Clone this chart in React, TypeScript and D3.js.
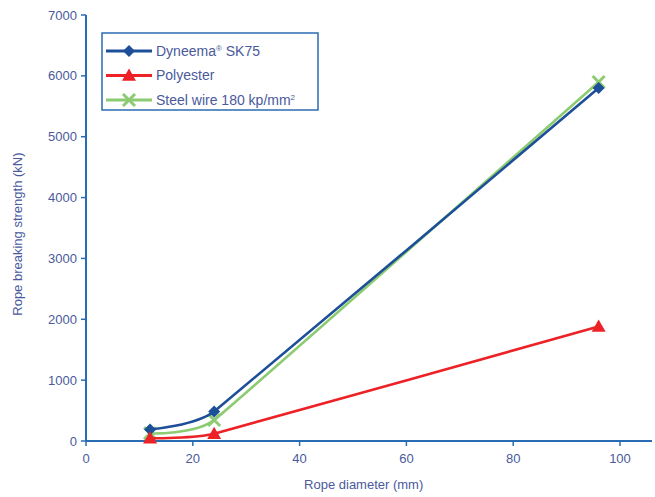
import React from "react";
import * as d3 from "d3";

const diameters = [12, 24, 96];
const dyneema = [190, 485, 5800];
const polyester = [45, 120, 1880];
const steel = [125, 345, 5900];
const xTicks = [0, 20, 40, 60, 80, 100];
const yTicks = [0, 1000, 2000, 3000, 4000, 5000, 6000, 7000];

const W = 655, H = 497;
const x0 = 86, y0 = 441;
const x = d3.scaleLinear().domain([0, 100]).range([x0, 620]);
const y = d3.scaleLinear().domain([0, 7000]).range([y0, 15]);

const AXIS = "#2a6cb4";
const TXT = "#4a5a9c";
const C_DY = "#1d4f98";
const C_PO = "#ec2227";
const C_ST = "#8ccb72";
const FONT = "'Liberation Sans', Arial, sans-serif";

const line = d3
  .line<[number, number]>()
  .x((d) => x(d[0]))
  .y((d) => y(d[1]))
  .curve(d3.curveCardinal.tension(0.75));

function Diamond({ cx, cy, c }: { cx: number; cy: number; c: string }) {
  const s = 6;
  return <path d={`M${cx},${cy - s}L${cx + s},${cy}L${cx},${cy + s}L${cx - s},${cy}Z`} fill={c} />;
}
function Tri({ cx, cy, c }: { cx: number; cy: number; c: string }) {
  const s = 7;
  return <path d={`M${cx},${cy - s}L${cx + s},${cy + s * 0.75}L${cx - s},${cy + s * 0.75}Z`} fill={c} />;
}
function Cross({ cx, cy, c }: { cx: number; cy: number; c: string }) {
  const s = 6;
  return (
    <path
      d={`M${cx - s},${cy - s}L${cx + s},${cy + s}M${cx - s},${cy + s}L${cx + s},${cy - s}`}
      stroke={c}
      strokeWidth={3}
      fill="none"
    />
  );
}

export default function App() {
  const series = [
    { vals: steel, c: C_ST, M: Cross },
    { vals: dyneema, c: C_DY, M: Diamond },
    { vals: polyester, c: C_PO, M: Tri },
  ];
  const legend = [
    { c: C_DY, M: Diamond, label: "dy" },
    { c: C_PO, M: Tri, label: "Polyester" },
    { c: C_ST, M: Cross, label: "st" },
  ];
  return (
    <svg width={W} height={H} style={{ position: "absolute", left: 0, top: 0, background: "#fff" }} fontFamily={FONT}>
      <rect width={W} height={H} fill="#fff" />
      <line x1={x0} x2={x0} y1={y(7000)} y2={y0} stroke={AXIS} strokeWidth={2} />
      <line x1={x0} x2={652} y1={y0} y2={y0} stroke={AXIS} strokeWidth={2} />
      {yTicks.map((t) => (
        <g key={t}>
          <line x1={x0 - 5} x2={x0} y1={y(t)} y2={y(t)} stroke={AXIS} strokeWidth={1.5} />
          <text x={x0 - 9} y={y(t)} dy="0.35em" textAnchor="end" fontSize={13} fill={TXT}>
            {t}
          </text>
        </g>
      ))}
      {xTicks.map((t) => (
        <g key={t}>
          <line x1={x(t)} x2={x(t)} y1={y0} y2={y0 + 5} stroke={AXIS} strokeWidth={1.5} />
          <text x={x(t)} y={y0 + 22} textAnchor="middle" fontSize={13} fill={TXT}>
            {t}
          </text>
        </g>
      ))}
      <text x={x(52)} y={489} textAnchor="middle" fontSize={13} fill={TXT}>
        Rope diameter (mm)
      </text>
      <text transform={`translate(22,${y(3400)}) rotate(-90)`} textAnchor="middle" fontSize={13} fill={TXT}>
        Rope breaking strength (kN)
      </text>
      {series.map((s, i) => {
        const pts = diameters.map((d, j) => [d, s.vals[j]] as [number, number]);
        return (
          <g key={i}>
            <path d={line(pts) || ""} fill="none" stroke={s.c} strokeWidth={2.6} />
            {pts.map((p, j) => (
              <s.M key={j} cx={x(p[0])} cy={y(p[1])} c={s.c} />
            ))}
          </g>
        );
      })}
      <rect x={102} y={33} width={216} height={77} fill="#fff" stroke={AXIS} strokeWidth={1.5} />
      {legend.map((l, i) => {
        const ly = 51 + i * 24.5;
        return (
          <g key={i}>
            <line x1={106} x2={152} y1={ly} y2={ly} stroke={l.c} strokeWidth={3} />
            <l.M cx={129} cy={ly} c={l.c} />
            <text x={156} y={ly} dy="0.35em" fontSize={14} fill={TXT}>
              {l.label === "dy" ? (
                <>
                  Dyneema<tspan fontSize={8} dy={-5}>®</tspan>
                  <tspan dy={5}> SK75</tspan>
                </>
              ) : l.label === "st" ? (
                <>
                  Steel wire 180 kp/mm<tspan fontSize={8} dy={-5}>2</tspan>
                </>
              ) : (
                l.label
              )}
            </text>
          </g>
        );
      })}
    </svg>
  );
}
